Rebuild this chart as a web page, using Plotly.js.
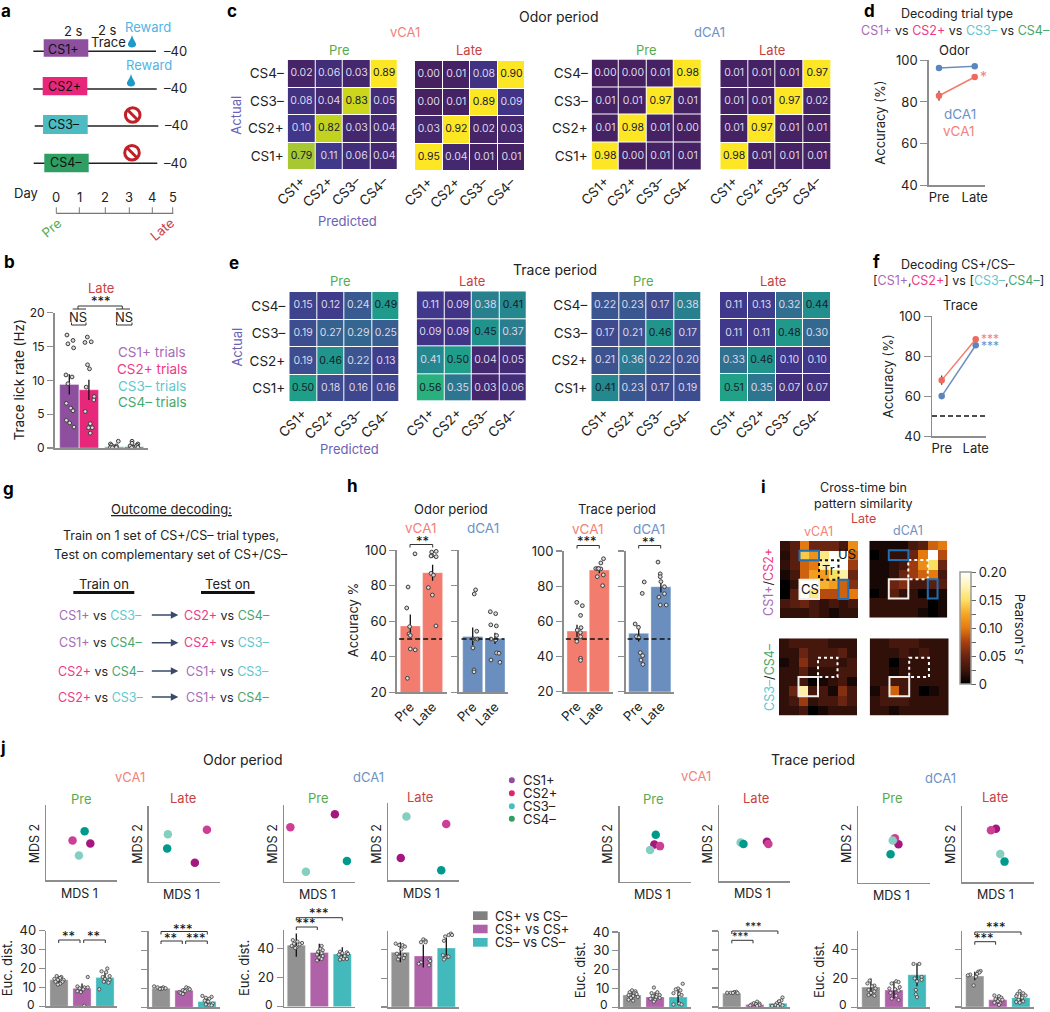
<!DOCTYPE html>
<html><head><meta charset="utf-8">
<script src="https://cdn.plot.ly/plotly-3.0.1.min.js"></script>
<style>html,body{margin:0;padding:0;background:#fff}#c{width:1050px;height:1012px}</style>
</head><body><div id="c"></div>
<script>
const classes=['CS1+','CS2+','CS3–','CS4–'];
// confusion matrices, rows CS1+ .. CS4–
const odorVPre=[[.79,.11,.06,.04],[.10,.82,.03,.04],[.08,.04,.83,.05],[.02,.06,.03,.89]];
const odorVLate=[[.95,.04,.01,.01],[.03,.92,.02,.03],[.00,.01,.89,.09],[.00,.01,.08,.90]];
const odorDPre=[[.98,.00,.01,.01],[.01,.98,.01,.00],[.01,.01,.97,.01],[.00,.00,.01,.98]];
const odorDLate=[[.98,.01,.01,.01],[.01,.97,.01,.01],[.01,.01,.97,.02],[.01,.01,.01,.97]];
const traceVPre=[[.50,.18,.16,.16],[.19,.46,.22,.13],[.19,.27,.29,.25],[.15,.12,.24,.49]];
const traceVLate=[[.56,.35,.03,.06],[.41,.50,.04,.05],[.09,.09,.45,.37],[.11,.09,.38,.41]];
const traceDPre=[[.41,.23,.17,.19],[.21,.36,.22,.20],[.17,.21,.46,.17],[.22,.23,.17,.38]];
const traceDLate=[[.51,.35,.07,.07],[.33,.46,.10,.10],[.11,.11,.48,.30],[.11,.13,.32,.44]];
// panel b
const lickVals=[9.4,8.6,.2,.2], lickErrs=[1.5,1.5,.1,.1];
const lickDots=[[16.7,15.9,15.4,14.8,10.8,10.5,9.5,6.6,5.9,5.5,4.1,3.7,3.1],[16.4,15.7,15.6,12.3,11.7,9.0,7.6,7.1,5.4,3.6,3.0,3.0,2.2],[1.0,.6,.4,.3,.2,.1,.1,.1,.05],[1.0,.7,.6,.4,.3,.2,.1,.1,.05]];
const lickDx=[[-.12,.19,-.07,.22,-.17,.14,-.07,-.15,.07,.19,-.15,.02,.24],[-.08,.12,-.2,-.07,.03,-.14,.27,.25,-.19,.07,.17,-.02,.07],[.2,-.2,-.15,.1,-.05,-.2,.05,.1,-.1],[-.1,-.1,.2,.15,-.2,.1,-.05,.2,-.12]];
// panels d, f
const periods=['Pre','Late'];
const dV=[83,92], dVe=[2.4,.6], dD=[96.3,97.2], dDe=[.6,.5];
const fV=[68,88.5], fVe=[2.3,.6], fD=[60,85.5], fDe=[1.6,.6];
const chanceLine=[50,50];
// panel h
const hOV=[57.4,87.4], hOVe=[6.5,4.5], hOD=[51.5,50.4], hODe=[5,3.2], hTV=[54.5,89.2], hTVe=[3.5,1.8], hTD=[53.2,79.7], hTDe=[4.7,3.3];
const hOVdots=[[98,79.3,67.5,57,52.9,52,44.4,43.9,27.9],[99,99.4,97,96.4,96.8,87,86,79,74.8,57.4]];
const hOVdx=[[.21,-.1,-.16,-.03,-.06,0,0,.22,-.13],[-.04,.16,-.03,.16,-.07,-.07,.04,-.19,-.01,.15]];
const hODdots=[[77.7,75.4,54.4,50,50,45,32.6,31.5],[65.4,64.3,58,57.4,52,50,49.5,42.2,42,38.2,36.9]];
const hODdx=[[.13,.07,.18,.03,.22,.01,.06,.06],[-.21,.03,-.19,.06,.07,-.18,.03,.07,.18,-.18,.22]];
const hTVdots=[[70.8,68.9,63.4,56.4,55,53.6,51.3,48.6,39,37.8],[95.6,93.2,90,90,89.8,85.4,86.4,80.3,90]];
const hTVdx=[[-.01,.24,.16,.18,.01,.15,.16,-.01,.16,.16],[.19,.07,-.16,-.07,.07,-.09,.18,.15,-.03]];
const hTDdots=[[82.4,75.9,58.5,56.6,51.3,50.7,42.2,40.5,38,35.5],[93.7,87,85.4,82.6,79.7,73.8,75.7,69.3,69.3]];
const hTDdx=[[.25,.16,-.16,-.01,-.1,.01,.07,.18,.1,.19],[-.13,-.03,-.03,0,.16,-.09,.16,-.03,.24]];
// panel i, pattern similarity (top row first)
const simVTop=[[.02,.04,.10,.05,.05,.05,.03,.11],[.015,.04,.14,.115,.16,.2,.2,.09],[.02,.04,.09,.10,.17,.2,.2,.07],[.01,.03,.09,.12,.12,.15,.17,.05],[.0,.02,.2,.2,.13,.12,.09,.06],[.0,.04,.2,.16,.08,.08,.09,.10],[.03,.04,.05,.03,.02,.03,.02,.03],[.02,.02,.02,.03,.02,.01,.02,.02]];
const simDTop=[[.01,.01,.01,.01,.03,.04,.09,.10],[.0,.01,.02,.02,.05,.10,.2,.08],[.01,.01,.02,.03,.07,.11,.15,.05],[.01,.01,.02,.05,.07,.09,.10,.03],[.01,.01,.05,.06,.03,.03,.04,.04],[.0,.01,.04,.02,.02,.0,.01,.01],[.02,.02,.02,.02,.02,.02,.0,.01],[.02,.02,.02,.02,.02,.01,.0,.01]];
const simVBot=[[.02,.03,.03,.03,.03,.02,.02,.02],[.02,.02,.05,.03,.03,.03,.04,.02],[.01,.02,.06,.03,.03,.03,.02,.03],[.02,.02,.04,.015,.02,.02,.03,.03],[.02,.02,.03,.0,.01,.02,.03,.01],[.02,.05,.17,.03,.03,.01,.06,.03],[.02,.03,.07,.02,.03,.03,.05,.03],[.02,.02,.03,.0,.01,.02,.02,.02]];
const simDBot=[[.02,.02,.03,.03,.03,.02,.02,.02],[.02,.02,.02,.03,.02,.03,.02,.02],[.02,.02,.0,.02,.02,.02,.02,.02],[.02,.02,.01,.02,.02,.02,.02,.02],[.02,.02,.03,.03,.02,.02,.02,.02],[.01,.03,.09,.03,.02,.0,.01,.02],[.02,.03,.03,.03,.02,.02,.02,.02],[.02,.02,.01,.02,.02,.02,.02,.02]];
const simTicks=[0,.025,.05,.075,.1,.125,.15,.175,.2], simLabels=['0','','0.05','','0.10','','0.15','','0.20'];
// panel j MDS, order CS1+,CS2+,CS3–,CS4– 
const mds1=[[.62,.37,.46,.54],[.49,.53,.33,.65]], mds2=[[.65,.82,.27,.26],[.25,.69,.63,.44]], mds3=[[.72,.09,.31,.89],[.88,.71,.13,.27]], mds4=[[.18,.82,.26,.75],[.29,.73,.83,.13]];
const mds5=[[.49,.57,.43,.51],[.49,.47,.42,.62]], mds6=[[.67,.69,.30,.34],[.52,.49,.51,.49]], mds7=[[.56,.51,.48,.45],[.50,.58,.55,.37]], mds8=[[.47,.40,.53,.59],[.70,.68,.37,.27]];
// panel j distance bars: CS+ vs CS–, CS+ vs CS+, CS– vs CS–
const j1v=[14,9.5,15.2], j1e=[2,2.5,3];
const j1d=[[16,15.5,15,14.5,14,14,13,13,12,11.5],[15.5,10.5,10,10,9.5,9,8,7.5,.3],[20,18.5,18,16,15.5,14.5,14,13,12.5,9]];
const j1x=[[-.1,.1,.05,-.2,.2,-.05,.15,-.15,.05,-.05],[.25,-.2,.1,.25,-.1,.05,-.2,-.05,.1],[.1,-.15,.05,.2,-.1,0,.2,-.05,.15,-.25]];
const j2v=[10,9,3], j2e=[.5,1,1.5];
const j2d=[[11,10.5,10.5,10,10,9.8,9.7],[10.5,10,9.5,9,8.5,8,7.5,7],[6,5.5,5,4.5,3.5,3,2,1.5,1,1]];
const j2x=[[-.3,-.15,.1,0,.2,.05,-.05],[.1,.2,.25,-.05,.05,-.2,-.15,-.05],[-.2,.2,-.05,.1,-.1,.05,.25,-.05,.1,.2]];
const j3v=[42.5,37.5,36.5], j3e=[8,6,4.5];
const j3d=[[46,45,44,43.5,43,42,41,40.5],[42,40,39,38,37,36,35,34,33,32],[38,37.5,37,36.5,36,35,34,33,33,32.5]];
const j3x=[[-.15,.05,.25,-.1,.15,-.2,0,-.05],[.1,.05,.15,-.05,.1,-.1,.15,0,.1,-.1],[-.1,.2,0,.25,-.15,.1,-.05,.2,.05,-.1]];
const j4v=[38,35.5,41], j4e=[7,8,7];
const j4d=[[44,43,43,42,40,37,36,35,34,33],[47,46,45,45,33,32,31,30,29],[51,50,50,49,46,36,35,35,34,33]];
const j4x=[[-.2,-.05,.1,.2,.05,-.15,.2,-.05,.15,-.1],[0,.1,-.1,.1,.25,.3,-.1,-.2,.25],[.2,.1,.25,-.05,-.1,-.15,.05,.1,-.05,-.1]];
const j5v=[6.5,5.5,5.5], j5e=[2,2.5,4];
const j5d=[[9,8.5,8,7.5,7,6.5,6,5.5,5,4,3.5],[10.5,8,7.5,6.5,6,5.5,5,4.5,4,3],[12.5,10,9.5,9,7.5,7,6.5,2,1.5,1.5]];
const j5x=[[0,.15,-.1,.15,.2,-.15,.05,.25,-.05,-.15,.05],[-.05,.1,-.15,.2,-.1,.05,.2,-.2,0,-.05],[.2,0,-.1,.1,-.2,.05,.15,.05,-.2,.15]];
const j6v=[7.3,1.3,2], j6e=[.4,.8,1.5];
const j6d=[[8,7.8,7.5,7.5,7.4,7.3],[2.8,2,1.8,1.5,1.2,1,.8,.6],[5,3.5,3,2,1.5,1,.8,.6,.5]];
const j6x=[[.2,.1,-.2,-.05,.05,.25],[.1,-.05,.2,.05,-.15,.2,-.2,.1],[.2,.15,.05,-.05,.1,-.1,.2,-.25,0]];
const j7v=[14,12,22.5], j7e=[6,6,8];
const j7d=[[18.5,16.5,15,14.5,13,12,11,10,8.5,8],[18,17.5,16.5,14,13,12.5,11.5,10,8,6,5],[30,30,21,20,19,18,12,9,7]];
const j7x=[[-.05,-.15,.15,.05,.2,-.1,.15,0,-.1,.15],[.1,.2,-.1,.25,-.2,.05,.2,-.15,.1,-.1,.2],[-.15,.1,.2,-.1,.2,0,-.05,-.05,0]];
const j8v=[21.5,5,6.5], j8e=[3,2.5,3];
const j8d=[[25,24.5,24,23,22.5,22,21,15],[8,7.5,6.5,5.5,5,4,3,2.5,1.5],[11,9.5,9,8,7.5,6.5,5,4,3.5,3]];
const j8x=[[.25,.15,.2,.1,-.2,-.3,.05,-.05],[-.15,.05,.15,-.1,.2,0,-.15,.1,.05],[-.05,.1,-.15,.2,-.2,.05,-.1,.1,-.2,-.05]];

const W=1050,H=1012,FONT='Inter, "Noto Sans", sans-serif';
const X=x=>x/W, Y=y=>1-y/H;
const C={pre:'#54ab4f',late:'#c9413f',v:'#f3827a',d:'#6d92c6',pr:'#6a62b8',cs1:'#a96ab6',cs2:'#ee3a85',cs3:'#5fc7cd',cs4:'#46a86c',ax:'#8d8d8d',txt:'#222'};
const span=(c,t)=>`<span style="color:${c}">${t}</span>`;
const traces=[],ann=[],shapes=[];const layout={width:W,height:H,margin:{l:0,r:0,t:0,b:0,pad:0},paper_bgcolor:'#fff',plot_bgcolor:'#fff',showlegend:false,font:{family:FONT,color:C.txt,size:12}};
let n=0;
function axes(x0,x1,top,bot,xo,yo){n++;const s=n===1?'':n;
 layout['xaxis'+s]=Object.assign({domain:[X(x0),X(x1)],anchor:'y'+s,showgrid:false,zeroline:false,showline:false,ticks:'',showticklabels:false,fixedrange:true},xo||{});
 layout['yaxis'+s]=Object.assign({domain:[Y(bot),Y(top)],anchor:'x'+s,showgrid:false,zeroline:false,showline:false,ticks:'',showticklabels:false,fixedrange:true},yo||{});
 return {x:'x'+s,y:'y'+s};}
function T(t,x,y,o){o=o||{};ann.push({text:t,x:X(x),y:Y(y),xref:'paper',yref:'paper',showarrow:false,xanchor:o.xa||'center',yanchor:'middle',textangle:o.a||0,font:{size:o.s||13,color:o.c||C.txt,family:FONT}});}
function L(x0,y0,x1,y1,c,w,d){shapes.push({type:'line',xref:'paper',yref:'paper',x0:X(x0),y0:Y(y0),x1:X(x1),y1:Y(y1),line:{color:c||'#222',width:w||1,dash:d||'solid'}});}
function R(x0,y0,x1,y1,f){shapes.push({type:'rect',xref:'paper',yref:'paper',x0:X(x0),y0:Y(y0),x1:X(x1),y1:Y(y1),fillcolor:f,line:{width:0}});}
function B(x0,x1,y,leg){const p=`M ${X(x0)} ${Y(y+(leg||3))} L ${X(x0)} ${Y(y)} L ${X(x1)} ${Y(y)} L ${X(x1)} ${Y(y+(leg||3))}`;shapes.push({type:'path',xref:'paper',yref:'paper',path:p,line:{color:'#333',width:1}});}
const ST=(x,y,s,fs)=>T('***'.slice(0,s||3),x,y,{s:fs||13,c:'#111'});
function letter(t,x,y){ann.push({text:'<b>'+t+'</b>',x:X(x),y:Y(y),xref:'paper',yref:'paper',showarrow:false,xanchor:'center',yanchor:'middle',font:{size:17,color:'#000',family:FONT}});}

// confusion heatmaps
const matScale=[[0,'#46205f'],[.11,'#40368a'],[.22,'#3d5090'],[.333,'#33698f'],[.444,'#25858f'],[.556,'#1f9e8a'],[.622,'#2aaf7e'],[.778,'#70c25a'],[.878,'#a7c832'],[.92,'#c9d51c'],[.975,'#fde725'],[1,'#fde725']];
function matrix(z,x0,x1,top,bot,showY,exc){
 const a=axes(x0,x1,top,bot,{type:'category',range:[-.5,3.5],showticklabels:true,tickangle:-45,tickfont:{size:13.5,family:FONT},tickvals:classes,ticktext:classes,ticks:''},{type:'category',range:[-.5,3.5],showticklabels:showY,tickvals:classes,ticktext:classes,tickfont:{size:13.5,family:FONT},ticklabelstandoff:3});
 traces.push({type:'heatmap',x:classes,y:classes,z:z,zmin:0,zmax:.9,colorscale:matScale,showscale:false,xgap:1,ygap:1,xaxis:a.x,yaxis:a.y,hoverinfo:'skip'});
 const tx=[],ty=[],tt=[],tc=[];z.forEach((r,i)=>r.forEach((v,j)=>{tx.push(classes[j]);ty.push(classes[i]);tt.push(v.toFixed(2));tc.push(v>.40&&!(exc&&exc[0]===i&&exc[1]===j)?'#14202a':'#dcd8ea');}));
 traces.push({type:'scatter',mode:'text',x:tx,y:ty,text:tt,textfont:{size:10.5,color:tc,family:FONT},textposition:'middle center',xaxis:a.x,yaxis:a.y,hoverinfo:'skip'});
}
matrix(odorVPre,287.7,398,60,170,true);matrix(odorVLate,415,525.3,61,171,false);matrix(odorDPre,591.7,701.5,59.5,170,true);matrix(odorDLate,720.3,831,60,170,false);
matrix(traceVPre,289.3,399.7,292,402.3,true);matrix(traceVLate,416.7,526.7,291.3,401.7,false,[1,0]);matrix(traceDPre,591.3,701.5,292,402,true);matrix(traceDLate,720,831,292,401.7,false);

// bars with dots
function bars(o){
 const xs=o.xs||o.vals.map((_,i)=>i);
 const a=axes(o.x0,o.x1,o.top,o.bot,Object.assign({range:[(o.x0-o.c0)/o.u,(o.x1-o.c0)/o.u],showline:true,linecolor:C.ax,linewidth:o.lw||1.5},o.labels?{showticklabels:true,tickvals:xs,ticktext:o.labels,tickangle:o.ang==null?-45:o.ang,tickfont:{size:13,family:FONT},ticks:''}:{}),
 {range:o.yr,showline:true,linecolor:C.ax,linewidth:o.lw||1.5,ticks:'outside',ticklen:o.tl||6,tickcolor:C.ax,tickwidth:1.2,tickvals:o.yt,showticklabels:!!o.yl,ticktext:o.yl||undefined,tickfont:{size:o.fs||13,family:FONT}});
 traces.push({type:'bar',x:xs,y:o.vals,width:o.w||.88,marker:{color:o.colors,line:{color:o.edge||'rgba(255,255,255,.35)',width:1}},error_y:{type:'data',array:o.errs,color:'#111',thickness:1.3,width:0},xaxis:a.x,yaxis:a.y,hoverinfo:'skip'});
 const dx=[],dy=[];o.dots.forEach((arr,i)=>arr.forEach((v,k)=>{dx.push(xs[i]+o.dx[i][k]);dy.push(v);}));
 traces.push({type:'scatter',mode:'markers',x:dx,y:dy,cliponaxis:false,marker:{size:o.ms||3.8,color:'#dcdcdc',line:{color:'#3c3c3c',width:o.ml||1}},xaxis:a.x,yaxis:a.y,hoverinfo:'skip'});
 if(o.chance)traces.push({type:'scatter',mode:'lines',x:[-.5,1.42],y:chanceLine,line:{color:'#111',width:1.5,dash:'5px,3px'},xaxis:a.x,yaxis:a.y,hoverinfo:'skip'});
}
// b
const bColors=['#8e4f9e','#e6277a','#3ebbc0','#2f9e63'];
bars({x0:55,x1:147.7,top:312.7,bot:448,c0:69.3,u:19.6,xs:[0,1,2.3,3.3],yr:[0,20],yt:[0,5,10,15,20],yl:['0','5','10','15','20'],vals:lickVals,errs:lickErrs,colors:bColors,dots:lickDots,dx:lickDx,w:.98,lw:2,fs:12});
// h
const vC='#f27d6e',dC='#6a8fbf';
const hc={yr:[20,100],yt:[20,40,60,80,100],labels:periods,lw:2,w:.9};
bars(Object.assign({},hc,{x0:397.3,x1:446.7,top:550.3,bot:692.3,c0:410.3,u:22.3,yl:['20','40','60','80','100'],vals:hOV,errs:hOVe,colors:[vC,vC],dots:hOVdots,dx:hOVdx,chance:1}));
bars(Object.assign({},hc,{x0:459.3,x1:508.3,top:550.3,bot:692.3,c0:472.7,u:22.3,vals:hOD,errs:hODe,colors:[dC,dC],dots:hODdots,dx:hODdx,chance:1}));
bars(Object.assign({},hc,{x0:564,x1:612.7,top:551,bot:691.7,c0:577,u:22.3,yl:['20','40','60','80','100'],vals:hTV,errs:hTVe,colors:[vC,vC],dots:hTVdots,dx:hTVdx,chance:1}));
bars(Object.assign({},hc,{x0:626,x1:674,top:551,bot:691.7,c0:638.7,u:22.2,vals:hTD,errs:hTDe,colors:[dC,dC],dots:hTDdots,dx:hTDdx,chance:1}));
// j bars
const jC=['#929292','#b062a8','#44b9bb'];
const t4=[0,10,20,30,40],t2=[0,20,40];
const js={w:.79,ms:3.3,ml:.8};
bars(Object.assign({x0:46.3,x1:117.3,top:930.7,bot:1006.3,c0:59,u:23,yr:[0,40],yt:t4,yl:['','10','20','30','40'],vals:j1v,errs:j1e,colors:jC,dots:j1d,dx:j1x},js));
bars(Object.assign({x0:148.7,x1:219.7,top:931.3,bot:1007.3,c0:161,u:23,yr:[0,40],yt:t4,vals:j2v,errs:j2e,colors:jC,dots:j2d,dx:j2x},js));
bars(Object.assign({x0:284,x1:354.7,top:930,bot:1006.7,c0:296.3,u:23,yr:[0,53],yt:t2,yl:['','20','40'],vals:j3v,errs:j3e,colors:jC,dots:j3d,dx:j3x},js));
bars(Object.assign({x0:388,x1:459,top:930.7,bot:1007,c0:400.3,u:23,yr:[0,53],yt:t2,vals:j4v,errs:j4e,colors:jC,dots:j4d,dx:j4x},js));
bars(Object.assign({x0:619.5,x1:690.6,top:932,bot:1007.3,c0:632,u:23.05,yr:[0,40],yt:t4,yl:['','10','20','30','40'],vals:j5v,errs:j5e,colors:jC,dots:j5d,dx:j5x},js));
bars(Object.assign({x0:719.3,x1:790.4,top:931,bot:1007,c0:731.8,u:23.05,yr:[0,40],yt:t4,vals:j6v,errs:j6e,colors:jC,dots:j6d,dx:j6x},js));
bars(Object.assign({x0:858.4,x1:929.9,top:930.7,bot:1007.3,c0:870.9,u:23.05,yr:[0,53],yt:t2,yl:['','20','40'],vals:j7v,errs:j7e,colors:jC,dots:j7d,dx:j7x},js));
bars(Object.assign({x0:962.4,x1:1033.8,top:930.7,bot:1007,c0:974.8,u:23.05,yr:[0,53],yt:t2,vals:j8v,errs:j8e,colors:jC,dots:j8d,dx:j8x},js));
[46.3,284,619.5,858.4].forEach(x=>T('0',x-15.5,1004,{s:12}));

// d, f line plots
function linePanel(x0,x1,top,bot,c0,u,a1,a1e,a2,a2e,ch){
 const a=axes(x0,x1,top,bot,{range:[(x0-c0)/u,(x1-c0)/u],showline:true,linecolor:C.ax,linewidth:1.5,showticklabels:true,tickvals:[0,1],ticktext:periods,tickangle:0,tickfont:{size:13,family:FONT}},{range:[40,100],showline:true,linecolor:C.ax,linewidth:1.5,ticks:'outside',ticklen:7,tickcolor:C.ax,tickvals:[40,60,80,100],showticklabels:true,tickfont:{size:13,family:FONT}});
 if(ch)traces.push({type:'scatter',mode:'lines',x:[(x0-c0)/u,(x1-c0)/u],y:chanceLine,line:{color:'#111',width:1.5,dash:'5px,3px'},xaxis:a.x,yaxis:a.y,hoverinfo:'skip'});
 traces.push({type:'scatter',mode:'lines+markers',x:[0,1],y:a2,cliponaxis:false,line:{color:'#6a8fbf',width:1.5},marker:{size:6.5,color:'#5b86bd'},error_y:{type:'data',array:a2e,color:'#333',thickness:1.2,width:0},xaxis:a.x,yaxis:a.y,hoverinfo:'skip'});
 traces.push({type:'scatter',mode:'lines+markers',x:[0,1],y:a1,cliponaxis:false,line:{color:'#f27d6e',width:1.5},marker:{size:6.5,color:'#f0695c'},error_y:{type:'data',array:a1e,color:'#333',thickness:1.2,width:0},xaxis:a.x,yaxis:a.y,hoverinfo:'skip'});
}
linePanel(928.7,985,60.3,185.3,939,35.7,dV,dVe,dD,dDe,false);
linePanel(932,985.7,316.3,436,941.7,34,fV,fVe,fD,fDe,true);

// i
const simScale=[[0,'#000'],[.125,'#3d140c'],[.25,'#6a2412'],[.375,'#a8400f'],[.5,'#e57a0f'],[.625,'#f5a623'],[.75,'#fce064'],[.875,'#fff4b8'],[1,'#fff']];
const idx=[0,1,2,3,4,5,6,7];
function sim(z,x0,x1,top,bot,dot,blue,cbar){
 const a=axes(x0,x1,top,bot,{range:[-.5,7.5]},{range:[7.5,-.5]});
 const tr={type:'heatmap',x:idx,y:idx,z:z,zmin:0,zmax:.2,colorscale:simScale,showscale:!!cbar,xaxis:a.x,yaxis:a.y,hoverinfo:'skip'};
 if(cbar)tr.colorbar={x:X(960),xanchor:'left',xref:'paper',y:Y(684),yanchor:'bottom',yref:'paper',len:112.3/H,lenmode:'fraction',thickness:10.7,xpad:0,ypad:0,outlinecolor:'#9a9a9a',outlinewidth:1.5,tickvals:simTicks,ticktext:simLabels,ticks:'outside',ticklen:5,tickcolor:'#666',tickfont:{size:13,family:FONT}};
 traces.push(tr);
 const box=(x0,x1,y0,y1,c,d,w)=>shapes.push({type:'rect',xref:a.x,yref:a.y,x0,x1,y0,y1,line:{color:c,width:w||2,dash:d||'solid'}});
 box(1.5,3.5,3.5,5.5,'#f2efe9');box(3.5,5.5,1.5,3.5,dot,'dot');
 if(blue){box(1.5,3.5,.5,1.5,'#1f6fb5');box(5.5,6.5,3.5,5.5,'#1f6fb5');}
}
sim(simVTop,780,858,541,618.3,'#111',true);sim(simDTop,869.3,947.3,540.7,617.7,'#fff',true,true);sim(simVBot,779,857,638.3,715.7,'#fff',false);sim(simDBot,869.7,948.7,638.3,715.7,'#fff',false);

// MDS
const mdsColors=['#a5177f','#cd3f95','#85cfc1','#009a8d'];
function mds(d,x0,x1,top,bot){
 const a=axes(x0,x1,top,bot,{range:[0,1],showline:true,linecolor:C.ax,linewidth:1.5},{range:[0,1],showline:true,linecolor:C.ax,linewidth:1.5});
 traces.push({type:'scatter',mode:'markers',x:d[0],y:d[1],marker:{size:8.5,color:mdsColors},xaxis:a.x,yaxis:a.y,hoverinfo:'skip'});
}
mds(mds1,46.3,117.3,805,880.3);mds(mds2,148.7,219.7,806.3,881.7);mds(mds3,284,354.7,805,881.7);mds(mds4,388,459,803.3,880.3);
mds(mds5,619.5,690.6,806,881.7);mds(mds6,719.3,790.4,805.3,881.3);mds(mds7,858.4,929.9,806,882.7);mds(mds8,962.4,1033.8,805.7,882.3);

// ---- text & decoration ----
letter('a',6,11);letter('b',9,262);letter('c',232,11);letter('d',869,11);letter('e',234,263);letter('f',876,262);letter('g',8,489);letter('h',352,486);letter('i',763,487);letter('j',3,748);
// a
const rows=[[33.3,156,51.3,43.7,88.3,39.3,56.7,'#8d4f9e','CS1+',63,49,175.7,50.7],[33.3,156.7,89,42.7,87.3,77,95.3,'#e8277a','CS2+',64.3,86.7,175,88.3],[34.7,158.3,126,43,87.7,115,134,'#4cbcc2','CS3–',64.3,124.7,176.7,125.3],[33.7,157.3,163.3,44.3,88.7,153.7,172.3,'#2f9e63','CS4–',66,162.3,175.7,163]];
rows.forEach(r=>{L(r[0],r[2],r[1],r[2],'#222',1.5);R(r[3],r[5],r[4],r[6],r[7]);T(r[8],r[9],r[10],{s:12.5,c:'#111'});T('–40',r[11],r[12],{s:13});});
T('2 s',73,31);T('2 s',107.3,30.3);T('Trace',108.3,42.3);T('Reward',148.3,26.7,{c:'#52b4e4'});T('Reward',149.3,65.3,{c:'#52b4e4'});
function drop(cx,y0,y1){const r=(y1-y0)*.3;const p=`M ${X(cx)} ${Y(y0)} C ${X(cx+r*.3)} ${Y(y0+5)} ${X(cx+r*1.05)} ${Y(y1-r-2)} ${X(cx+r)} ${Y(y1-r)} C ${X(cx+r)} ${Y(y1)} ${X(cx-r)} ${Y(y1)} ${X(cx-r)} ${Y(y1-r)} C ${X(cx-r*1.05)} ${Y(y1-r-2)} ${X(cx-r*.3)} ${Y(y0+5)} ${X(cx)} ${Y(y0)} Z`;shapes.push({type:'path',xref:'paper',yref:'paper',path:p,fillcolor:'#1c9ac9',line:{width:0}});}
drop(132,35,48.5);drop(131,74,87.5);
function noSign(cx,cy){shapes.push({type:'circle',xref:'paper',yref:'paper',x0:X(cx-7.3),x1:X(cx+7.3),y0:Y(cy-7.3),y1:Y(cy+7.3),fillcolor:'#fff',line:{color:'#c02027',width:3}});L(cx-5,cy-5,cx+5,cy+5,'#c02027',3);}
noSign(132.7,115);noSign(132,152.7);
T('Day',25.7,192.7);
[[0,56.3],[1,79.3],[2,105.3],[3,129.3],[4,152.3],[5,172.7]].forEach(d=>{T(String(d[0]),d[1],197.3);L(d[1],207.3,d[1],213.3,'#777',1);});
L(56.3,213.3,173.3,213.3,'#777',1.2);
T('Pre',51,227.7,{c:C.pre,a:-40});T('Late',162.3,229.3,{c:C.late,a:-40});
// b
T('Trace lick rate (Hz)',18.5,380,{a:-90,s:13.5});
T('Late',100.7,287.7,{c:C.late});ST(100.7,300.5);
B(78,122.3,306);L(72.7,309,86,309,'#333',1);L(116,309,130,309,'#333',1);
T('NS',78,317);T('NS',123.7,317);
B(71.5,86,325,-2.5);B(116.5,132,325,-2.5);
T('CS1+ trials',151.7,352,{c:C.cs1,s:13.5});T('CS2+ trials',152.3,368.7,{c:C.cs2,s:13.5});T('CS3– trials',152,385.7,{c:C.cs3,s:13.5});T('CS4– trials',152,402.3,{c:C.cs4,s:13.5});
// c
T('Odor period',558,16.7,{s:14});T('vCA1',405.3,32.3,{c:C.v});T('dCA1',709.3,32,{c:C.d});
[[339.3,'Pre',C.pre],[469.3,'Late',C.late],[646,'Pre',C.pre],[772.3,'Late',C.late]].forEach(a=>T(a[1],a[0],50,{c:a[2]}));
T('Actual',235.7,115,{a:-90,c:C.pr});T('Predicted',347.3,221,{c:C.pr});
// e
T('Trace period',555,269,{s:14});
[[340.7,'Pre',C.pre],[471.7,'Late',C.late],[643,'Pre',C.pre],[773.3,'Late',C.late]].forEach(a=>T(a[1],a[0],281,{c:a[2]}));
T('Actual',237.3,347.3,{a:-90,c:C.pr});T('Predicted',349.3,449.3,{c:C.pr});
// d f
T('Decoding trial type',956.7,13.7,{s:12.5});
T(span(C.cs1,'CS1+')+' vs '+span(C.cs2,'CS2+')+' vs '+span(C.cs3,'CS3–')+' vs '+span(C.cs4,'CS4–'),955,30.3,{s:12.5});
T('Odor',954.7,50.3);T('dCA1',960,114.3,{c:C.d,s:13.5});T('vCA1',959.3,131,{c:C.v,s:13.5});T('*',983.7,76,{c:C.v,s:14});
T('Accuracy (%)',880,122.7,{a:-90});
T('Decoding CS+/CS–',958.3,264.3,{s:12.5});
T('['+span(C.cs1,'CS1+')+','+span(C.cs2,'CS2+')+'] vs ['+span(C.cs3,'CS3–')+','+span(C.cs4,'CS4–')+']',958.3,280.3,{s:12.5});
T('Trace',960,305.3);T('***',990,338,{c:C.v,s:12});T('***',990,345.5,{c:C.d,s:12});
T('Accuracy (%)',888.3,376,{a:-90});
// g
T('<u>Outcome decoding:</u>',171.3,508.7,{s:13});
T('Train on 1 set of CS+/CS– trial types,',171,535.7,{s:12.5});T('Test on complementary set of CS+/CS–',171,554.7,{s:12.5});
T('Train on',104,584.3);T('Test on',227.7,584.3);R(73.3,591,134.3,594,'#111');R(201,591,254.7,594,'#111');
const c1=span(C.cs1,'CS1+'),c2=span(C.cs2,'CS2+'),c3=span(C.cs3,'CS3–'),c4=span(C.cs4,'CS4–');
[[615,c1,c3,c2,c4],[642.7,c1,c4,c2,c3],[671,c2,c4,c1,c3],[697,c2,c3,c1,c4]].forEach(r=>{T(r[1]+' vs '+r[2],100.7,r[0],{s:12.5});T(r[3]+' vs '+r[4],227,r[0],{s:12.5});
 ann.push({text:'',x:X(178.3),y:Y(r[0]),xref:'paper',yref:'paper',showarrow:true,ax:-28,ay:0,axref:'pixel',ayref:'pixel',arrowcolor:'#3b4a6b',arrowwidth:1.5,arrowhead:2,arrowsize:1});});
// h
T('Odor period',450.7,509.3);T('Trace period',617.3,509.3);T('vCA1',420.7,528,{c:C.v,s:13.5});T('dCA1',483.3,528,{c:C.d,s:13.5});T('vCA1',587.7,529,{c:C.v,s:13.5});T('dCA1',649.3,529,{c:C.d,s:13.5});
ST(422,541,2);ST(587,541);ST(648.7,541.5,2);B(410,432.7,544.5);B(577,599.3,545.5);B(638.7,660.7,545.5);
T('Accuracy %',353.3,620,{a:-90});
// i
T('Cross-time bin',863.7,487.3,{s:12.5});T('pattern similarity',863.7,503.7,{s:12.5});T('Late',863,518.3,{c:C.late,s:12.5});T('vCA1',818.7,531,{c:C.v,s:12.5});T('dCA1',908.3,530.3,{c:C.d,s:12.5});
T(c1+'/'+c2,768.3,581.7,{a:-90,s:12.5});T(c3+'/'+c4,769.3,676.7,{a:-90,s:12.5});
T("Pearson's <i>r</i>",1020,628.7,{a:90,s:13});
T('US',846.7,554,{s:13,c:'#111'});T('Tr',828.7,570.3,{s:13,c:'#111'});T('CS',810,589.3,{s:13,c:'#111'});
// j
T('Odor period',242.7,759.3,{s:14});T('vCA1',130.3,777,{c:C.v});T('dCA1',368.3,777.3,{c:C.d});
T('Trace period',813.4,759.3,{s:14});T('vCA1',696.3,776,{c:C.v});T('dCA1',940.8,777.7,{c:C.d});
[[81,798.7,'Pre',C.pre],[183,798,'Late',C.late],[318.3,798,'Pre',C.pre],[420.3,797.3,'Late',C.late],[653.9,798.7,'Pre',C.pre],[756.4,798,'Late',C.late],[892,798,'Pre',C.pre],[994.5,797.3,'Late',C.late]].forEach(a=>T(a[2],a[0],a[1],{c:a[3]}));
[34.3,136.7,271.7,375.7,606.7,706.5,846,949.9].forEach(x=>T('MDS 2',x,844,{a:-90,s:12.5}));
[[79.3,893],[181.7,894],[317,894],[421.3,893],[652.4,894.7],[752.6,893.7],[891.7,895.3],[995.6,894.7]].forEach(a=>T('MDS 1',a[0],a[1],{s:12.5}));
[[7.3,968],[244,968],[580.2,970],[819,970]].forEach(a=>T('Euc. dist.',a[0],a[1],{a:-90,s:13}));
[[780.3,'#8e4f9e','CS1+'],[793.3,'#e0246f','CS2+'],[806.3,'#4cbcc2','CS3–'],[818.7,'#2e9e62','CS4–']].forEach(a=>{shapes.push({type:'circle',xref:'paper',yref:'paper',x0:X(508.8),x1:X(514.8),y0:Y(a[0]-3),y1:Y(a[0]+3),fillcolor:a[1],line:{width:0}});T(a[2],520.5,a[0],{xa:'left',s:13});});
[[911.3,920,'#808080','CS+ vs CS–',916],[924.7,933.3,'#b062a8','CS+ vs CS+',929.3],[938,946.7,'#44b9bb','CS– vs CS–',942.3]].forEach(a=>{R(473,a[0],487.6,a[1],a[2]);T(a[3],493,a[4],{xa:'left',s:13});});
ST(68.3,936,2);ST(93.7,936,2);B(58.7,80,940);B(83.7,105.3,940);
ST(183,928.5);ST(170.7,938,2);ST(195.7,938);B(161,207.3,931.5);B(161,182.3,941);B(185.7,207.3,941);
ST(319.3,913);ST(306,923);B(296.3,342.3,917.7);B(296.3,317.3,927);
ST(753.7,926,3,11);ST(740.9,936,3,11);B(731.8,777.9,931);B(731.8,753,940.3);
ST(996.4,927);ST(983.9,938);B(974.8,1021,932);B(974.8,995.6,941.7);

layout.annotations=ann;layout.shapes=shapes;
Plotly.newPlot('c',traces,layout,{displayModeBar:false,staticPlot:true});
</script></body></html>
